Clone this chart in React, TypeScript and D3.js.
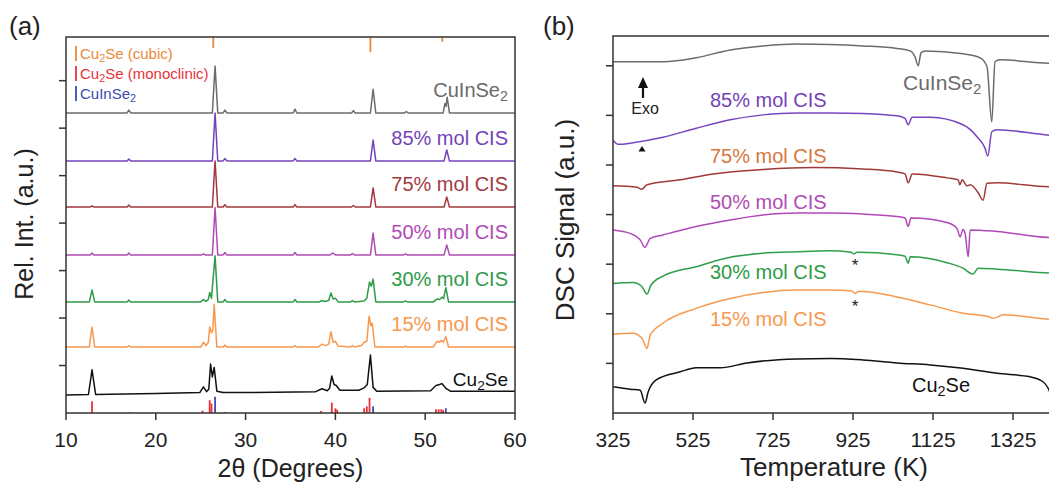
import * as d3 from 'd3'

const FONT = "'Liberation Sans', Arial, Helvetica, sans-serif"

// ---------- (a) XRD patterns: [2theta, intensity above own baseline] ----------
const XRD_TICKS = [10, 20, 30, 40, 50, 60]
const XRD_NAMES = ['CuInSe2', '85% mol CIS', '75% mol CIS', '50% mol CIS', '30% mol CIS', '15% mol CIS', 'Cu2Se']
const XRD_COLORS = ['#6b6b6b', '#7443b8', '#a33a3f', '#b04bb5', '#2e9b48', '#f7984e', '#111111']
const XRD_OFFSETS = [6.32, 5.31, 4.34, 3.33, 2.34, 1.39, 0.38]

const xrdCIS: [number, number][] = [[10, 0], [16.8, 0], [17.0, 0.06], [17.2, 0], [26.3, 0], [26.6, 0.99], [26.9, 0], [27.5, 0], [27.7, 0.06], [27.9, 0], [35.3, 0], [35.5, 0.08], [35.7, 0], [41.8, 0], [42.0, 0.05], [42.2, 0], [43.9, 0], [44.2, 0.5], [44.5, 0], [47.7, 0], [47.9, 0.03], [48.1, 0], [52.0, 0], [52.2, 0.2], [52.32, 0.14], [52.45, 0.33], [52.7, 0], [60, 0]]
const xrd85: [number, number][] = [[10, 0], [16.8, 0], [17.0, 0.04], [17.2, 0], [26.3, 0], [26.6, 1.01], [26.9, 0], [27.5, 0], [27.7, 0.05], [27.9, 0], [35.3, 0], [35.5, 0.05], [35.7, 0], [43.9, 0], [44.2, 0.44], [44.5, 0], [52.1, 0], [52.4, 0.23], [52.7, 0], [60, 0]]
const xrd75: [number, number][] = [[10, 0], [12.7, 0], [12.9, 0.02], [13.1, 0], [16.8, 0], [17.0, 0.04], [17.2, 0], [26.3, 0], [26.6, 0.97], [26.9, 0], [27.5, 0], [27.7, 0.05], [27.9, 0], [35.3, 0], [35.5, 0.05], [35.7, 0], [41.8, 0], [42.0, 0.03], [42.2, 0], [43.9, 0], [44.2, 0.4], [44.5, 0], [52.1, 0], [52.4, 0.21], [52.7, 0], [60, 0]]
const xrd50: [number, number][] = [[10, 0], [12.7, 0], [12.9, 0.04], [13.1, 0], [16.8, 0], [17.0, 0.04], [17.2, 0], [25.1, 0], [25.3, 0.02], [25.5, 0], [26.3, 0], [26.6, 1.0], [26.9, 0], [27.5, 0], [27.7, 0.05], [27.9, 0], [35.3, 0], [35.5, 0.05], [35.7, 0], [39.4, 0], [39.7, 0.04], [40.0, 0], [41.7, 0], [41.9, 0.03], [42.1, 0], [43.9, 0], [44.2, 0.46], [44.5, 0], [47.6, 0], [47.8, 0.02], [48.0, 0], [52.1, 0], [52.4, 0.21], [52.7, 0], [60, 0]]
const xrd30: [number, number][] = [[10, 0], [12.6, 0], [12.9, 0.25], [13.2, 0], [16.8, 0], [17.0, 0.04], [17.2, 0], [25.0, 0], [25.3, 0.05], [25.6, 0.01], [25.85, 0.05], [26.0, 0.2], [26.2, 0.08], [26.6, 0.97], [26.9, 0], [27.5, 0], [27.7, 0.05], [27.9, 0], [35.3, 0], [35.5, 0.05], [35.7, 0], [38.2, 0], [38.5, 0.03], [38.8, 0.01], [39.25, 0.03], [39.5, 0.19], [39.75, 0.06], [40.0, 0.08], [40.3, 0], [41.7, 0], [41.9, 0.03], [42.1, 0], [43.2, 0.02], [43.5, 0.08], [43.8, 0.42], [44.0, 0.33], [44.2, 0.48], [44.5, 0], [47.6, 0], [47.8, 0.02], [48.0, 0], [50.9, 0], [51.3, 0.06], [51.6, 0.05], [51.9, 0.1], [52.05, 0.07], [52.3, 0.3], [52.6, 0], [60, 0]]
const xrd15: [number, number][] = [[10, 0], [12.6, 0], [12.9, 0.42], [13.2, 0], [16.8, 0], [17.0, 0.03], [17.2, 0], [25.0, 0], [25.3, 0.1], [25.6, 0.03], [25.85, 0.1], [26.0, 0.42], [26.2, 0.3], [26.35, 0.35], [26.5, 0.9], [26.8, 0], [27.5, 0], [27.7, 0.04], [27.9, 0], [35.3, 0], [35.5, 0.03], [35.7, 0], [38.1, 0], [38.5, 0.06], [38.9, 0.03], [39.25, 0.06], [39.5, 0.32], [39.75, 0.1], [40.0, 0.12], [40.3, 0.02], [41.7, 0], [41.9, 0.03], [42.1, 0], [42.9, 0.03], [43.2, 0.1], [43.5, 0.12], [43.75, 0.65], [43.95, 0.45], [44.1, 0.5], [44.4, 0], [47.6, 0], [47.8, 0.02], [48.0, 0], [50.9, 0], [51.3, 0.12], [51.6, 0.1], [51.8, 0.14], [52.0, 0.1], [52.3, 0.22], [52.6, 0], [60, 0]]
const xrdCu2Se: [number, number][] = [[10, 0], [12.5, 0.01], [12.9, 0.53], [13.3, 0.01], [20, 0.03], [24.9, 0.05], [25.3, 0.17], [25.65, 0.07], [25.9, 0.12], [26.1, 0.65], [26.3, 0.38], [26.5, 0.58], [26.8, 0.08], [27.5, 0.05], [30, 0.05], [37.8, 0.07], [38.5, 0.13], [39.1, 0.09], [39.35, 0.14], [39.6, 0.4], [39.85, 0.22], [40.1, 0.2], [40.5, 0.1], [42.6, 0.1], [43.2, 0.15], [43.55, 0.22], [43.9, 0.84], [44.2, 0.16], [44.6, 0.08], [50.6, 0.09], [51.2, 0.2], [51.6, 0.22], [51.85, 0.24], [52.3, 0.14], [52.8, 0.08], [60, 0.08]]
const XRD_SERIES = [xrdCIS, xrd85, xrd75, xrd50, xrd30, xrd15, xrdCu2Se]

// reference sticks [2theta, height]
const REF_CUBIC: [number, number][] = [[26.4, 0.23], [43.9, 0.32], [51.9, 0.1]]
const REF_MONO: [number, number][] = [[12.9, 0.25], [25.2, 0.05], [26.0, 0.27], [26.2, 0.2], [38.4, 0.04], [39.6, 0.22], [40.0, 0.1], [40.2, 0.07], [43.2, 0.1], [43.5, 0.14], [43.8, 0.32], [51.2, 0.08], [51.5, 0.08], [51.8, 0.08], [52.0, 0.06]]
const REF_CIS: [number, number][] = [[17.1, 0.02], [26.6, 0.34], [27.7, 0.02], [44.2, 0.14], [52.3, 0.1]]
const REF_NAMES = ['Cu2Se (cubic)', 'Cu2Se (monoclinic)', 'CuInSe2']
const REF_COLORS = ['#e8893c', '#e8323a', '#3c4bb0']

// ---------- (b) DSC curves: [T (K), signal] ----------
const DSC_TICKS = [325, 525, 725, 925, 1125, 1325]
const DSC_NAMES = ['CuInSe2', '85% mol CIS', '75% mol CIS', '50% mol CIS', '30% mol CIS', '15% mol CIS', 'Cu2Se']
const DSC_COLORS = ['#6b6b6b', '#7645bf', '#a03a3a', '#b048b8', '#2f9e4a', '#f79a4f', '#111111']
const DSC_LABEL_COLORS = ['#6b6b6b', '#7443b8', '#d9773e', '#b04bb5', '#2e9b48', '#f7984e', '#111111']

const dscCIS: [number, number][] = [[325, 7.08], [450, 7.08], [533, 7.16], [618, 7.32], [700, 7.4], [785, 7.44], [868, 7.43], [950, 7.4], [1035, 7.35], [1068, 7.3], [1080, 7.18], [1088, 7.0], [1095, 7.26], [1105, 7.3], [1200, 7.24], [1243, 7.16], [1260, 6.98], [1272, 5.87], [1280, 7.08], [1292, 7.12], [1418, 7.05], [1440, 7.05]]
const dsc85: [number, number][] = [[325, 5.5], [337, 5.42], [350, 5.42], [368, 5.44], [450, 5.56], [533, 5.74], [618, 5.91], [700, 6.01], [785, 6.05], [868, 6.05], [950, 6.04], [1035, 5.99], [1055, 5.94], [1063, 5.81], [1073, 5.96], [1118, 5.96], [1200, 5.81], [1235, 5.57], [1255, 5.34], [1262, 5.18], [1272, 5.67], [1285, 5.71], [1418, 5.6], [1440, 5.59]]
const dsc75: [number, number][] = [[325, 4.58], [385, 4.55], [397, 4.51], [410, 4.6], [493, 4.7], [575, 4.82], [700, 4.91], [825, 4.95], [950, 4.92], [1035, 4.86], [1055, 4.82], [1063, 4.64], [1073, 4.82], [1160, 4.74], [1188, 4.7], [1192, 4.6], [1198, 4.7], [1210, 4.58], [1218, 4.6], [1238, 4.44], [1250, 4.29], [1260, 4.63], [1285, 4.64], [1418, 4.56], [1440, 4.56]]
const dsc50: [number, number][] = [[325, 3.69], [368, 3.62], [393, 3.49], [405, 3.34], [418, 3.52], [450, 3.59], [533, 3.76], [618, 3.89], [700, 3.99], [785, 4.03], [868, 4.03], [950, 4.01], [1035, 3.96], [1055, 3.93], [1063, 3.76], [1070, 3.93], [1160, 3.84], [1185, 3.72], [1193, 3.55], [1200, 3.7], [1205, 3.63], [1213, 3.15], [1218, 3.69], [1285, 3.66], [1418, 3.54], [1440, 3.54]]
const dsc30: [number, number][] = [[325, 2.61], [375, 2.63], [397, 2.55], [410, 2.4], [420, 2.58], [450, 2.76], [533, 2.95], [618, 3.14], [700, 3.22], [785, 3.25], [868, 3.27], [920, 3.24], [928, 3.21], [935, 3.24], [1035, 3.19], [1055, 3.16], [1063, 3.02], [1068, 3.15], [1160, 3.03], [1200, 2.92], [1225, 2.8], [1238, 2.92], [1285, 2.9], [1418, 2.82], [1440, 2.81]]
const dsc15: [number, number][] = [[325, 1.59], [375, 1.61], [397, 1.51], [410, 1.3], [418, 1.57], [450, 1.81], [533, 2.11], [618, 2.31], [700, 2.43], [785, 2.48], [868, 2.48], [922, 2.46], [930, 2.41], [938, 2.45], [950, 2.45], [1035, 2.34], [1118, 2.18], [1200, 2.01], [1265, 1.94], [1273, 1.91], [1285, 1.93], [1300, 1.98], [1418, 1.89], [1440, 1.88]]
const dscCu2Se: [number, number][] = [[325, 0.53], [368, 0.48], [393, 0.46], [405, 0.2], [413, 0.43], [433, 0.67], [493, 0.83], [533, 0.91], [593, 0.91], [660, 1.01], [785, 1.09], [868, 1.1], [950, 1.07], [1035, 1.01], [1118, 0.97], [1200, 0.9], [1285, 0.8], [1368, 0.73], [1400, 0.63], [1418, 0.4], [1425, 0.2], [1432, 0.02]]
const DSC_SERIES = [dscCIS, dsc85, dsc75, dsc50, dsc30, dsc15, dscCu2Se]

// chemical formula: digits after a letter become subscripts
function Chem({ s, shift }: { s: string; shift: number }) {
  const parts = s.split(/(?<=[A-Za-z])(\d+)/)
  return (
    <>
      {parts.map((t, i) =>
        i % 2 === 1 ? (
          <tspan key={i} dy={shift} fontSize="72%">{t}</tspan>
        ) : (
          <tspan key={i} dy={i === 0 ? 0 : -shift}>{t}</tspan>
        )
      )}
    </>
  )
}

export default function App() {
  const W = 1057
  const H = 490

  // panel a geometry
  const ax = d3.scaleLinear().domain([10, 60]).range([66, 515])
  const ay = d3.scaleLinear().domain([0, 7.92]).range([413, 37])
  // panel b geometry
  const bx = d3.scaleLinear().domain([325, 1435]).range([613, 1057])
  const by = d3.scaleLinear().domain([0, 7.6]).range([413, 36])

  const axisColor = '#333'

  // DSC label layout
  const dscLabelPos = [
    { x: 903, y: 90, size: 21 },
    { x: 710, y: 107, size: 20 },
    { x: 710, y: 163, size: 20 },
    { x: 710, y: 209, size: 20 },
    { x: 710, y: 279, size: 20 },
    { x: 710, y: 326, size: 20 },
    { x: 912, y: 392, size: 20 },
  ]

  return (
    <svg width={W} height={H} style={{ display: 'block', marginTop: -8, marginLeft: -8 }} fontFamily={FONT}>
      <rect width={W} height={H} fill="#fff" />
      <defs>
        <clipPath id="clipA">
          <rect x={66} y={37} width={449} height={376} />
        </clipPath>
        <clipPath id="clipB">
          <rect x={613} y={36} width={450} height={377} />
        </clipPath>
      </defs>

      {/* ---------------- panel (a) ---------------- */}
      <text x={9} y={35} fontSize={26} fill="#222">(a)</text>

      <g clipPath="url(#clipA)">
        {XRD_SERIES.map((pts, i) => {
          const line = d3
            .line<[number, number]>()
            .x((d) => ax(d[0]))
            .y((d) => ay(d[1] + XRD_OFFSETS[i]))
          return <path key={i} d={line(pts) || ''} fill="none" stroke={XRD_COLORS[i]} strokeWidth={1.5} strokeLinejoin="round" />
        })}
        {REF_CUBIC.map((d, i) => (
          <line key={'c' + i} x1={ax(d[0])} x2={ax(d[0])} y1={ay(7.92)} y2={ay(7.92 - d[1])} stroke={REF_COLORS[0]} strokeWidth={1.8} />
        ))}
        {REF_MONO.map((d, i) => (
          <line key={'m' + i} x1={ax(d[0])} x2={ax(d[0])} y1={ay(0)} y2={ay(d[1])} stroke={REF_COLORS[1]} strokeWidth={1.8} />
        ))}
        {REF_CIS.map((d, i) => (
          <line key={'b' + i} x1={ax(d[0])} x2={ax(d[0])} y1={ay(0)} y2={ay(d[1])} stroke={REF_COLORS[2]} strokeWidth={1.8} />
        ))}
      </g>

      <rect x={66} y={37} width={449} height={376} fill="none" stroke={axisColor} strokeWidth={1.5} />
      {XRD_TICKS.map((t) => (
        <g key={t}>
          <line x1={ax(t)} x2={ax(t)} y1={413} y2={420} stroke={axisColor} strokeWidth={1.5} />
          <text x={ax(t)} y={447} fontSize={21} textAnchor="middle" fill="#222">{t}</text>
        </g>
      ))}
      {d3.range(1, 8).map((v) => (
        <line key={v} x1={59} x2={66} y1={ay(v)} y2={ay(v)} stroke={axisColor} strokeWidth={1.5} />
      ))}
      <text x={ax(35)} y={477} fontSize={25} textAnchor="middle" fill="#222">2θ (Degrees)</text>
      <text transform="translate(33,224) rotate(-90)" fontSize={25} textAnchor="middle" fill="#222">Rel. Int. (a.u.)</text>

      {/* legend of reference sticks */}
      {REF_NAMES.map((n, i) => (
        <g key={n}>
          <line x1={76} x2={76} y1={46 + i * 20} y2={61 + i * 20} stroke={REF_COLORS[i]} strokeWidth={1.8} />
          <text x={80} y={59 + i * 20} fontSize={15} fill={REF_COLORS[i]}>
            <Chem s={n} shift={3} />
          </text>
        </g>
      ))}

      {/* sample labels */}
      {XRD_NAMES.map((n, i) => {
        const last = i === XRD_NAMES.length - 1
        return (
          <text key={n} x={508} y={ay(XRD_OFFSETS[i]) - (last ? 9 : 16)} fontSize={last ? 19 : 20} textAnchor="end" fill={XRD_COLORS[i]}>
            <Chem s={n} shift={4} />
          </text>
        )
      })}

      {/* ---------------- panel (b) ---------------- */}
      <text x={543} y={35} fontSize={26} fill="#222">(b)</text>

      <g clipPath="url(#clipB)">
        {DSC_SERIES.map((pts, i) => {
          const line = d3
            .line<[number, number]>()
            .x((d) => bx(d[0]))
            .y((d) => by(d[1]))
            .curve(d3.curveMonotoneX)
          return <path key={i} d={line(pts) || ''} fill="none" stroke={DSC_COLORS[i]} strokeWidth={1.5} strokeLinejoin="round" />
        })}
      </g>

      <path d={`M${W + 5},36H613V413H${W + 5}`} fill="none" stroke={axisColor} strokeWidth={1.5} />
      {DSC_TICKS.map((t) => (
        <g key={t}>
          <line x1={bx(t)} x2={bx(t)} y1={413} y2={420} stroke={axisColor} strokeWidth={1.5} />
          <text x={bx(t)} y={447} fontSize={21} textAnchor="middle" fill="#222">{t}</text>
        </g>
      ))}
      {d3.range(1, 8).map((v) => (
        <line key={v} x1={606} x2={613} y1={by(v)} y2={by(v)} stroke={axisColor} strokeWidth={1.5} />
      ))}
      <text x={834} y={476} fontSize={26} textAnchor="middle" fill="#222">Temperature (K)</text>
      <text transform="translate(574,220) rotate(-90)" fontSize={26} textAnchor="middle" fill="#222">DSC Signal (a.u.)</text>

      {DSC_NAMES.map((n, i) => (
        <text key={n} x={dscLabelPos[i].x} y={dscLabelPos[i].y} fontSize={dscLabelPos[i].size} fill={DSC_LABEL_COLORS[i]}>
          <Chem s={n} shift={4} />
        </text>
      ))}

      {/* Exo arrow and markers */}
      <line x1={643} x2={643} y1={86} y2={98} stroke="#111" strokeWidth={2.2} />
      <path d="M643,77L638,88L648,88Z" fill="#111" />
      <text x={645} y={114} fontSize={16} textAnchor="middle" fill="#222">Exo</text>
      <path d="M642,146L638.5,151.5L645.5,151.5Z" fill="#111" />
      <text x={bx(930)} y={271} fontSize={17} textAnchor="middle" fill="#222">*</text>
      <text x={bx(930)} y={312} fontSize={17} textAnchor="middle" fill="#222">*</text>
    </svg>
  )
}
